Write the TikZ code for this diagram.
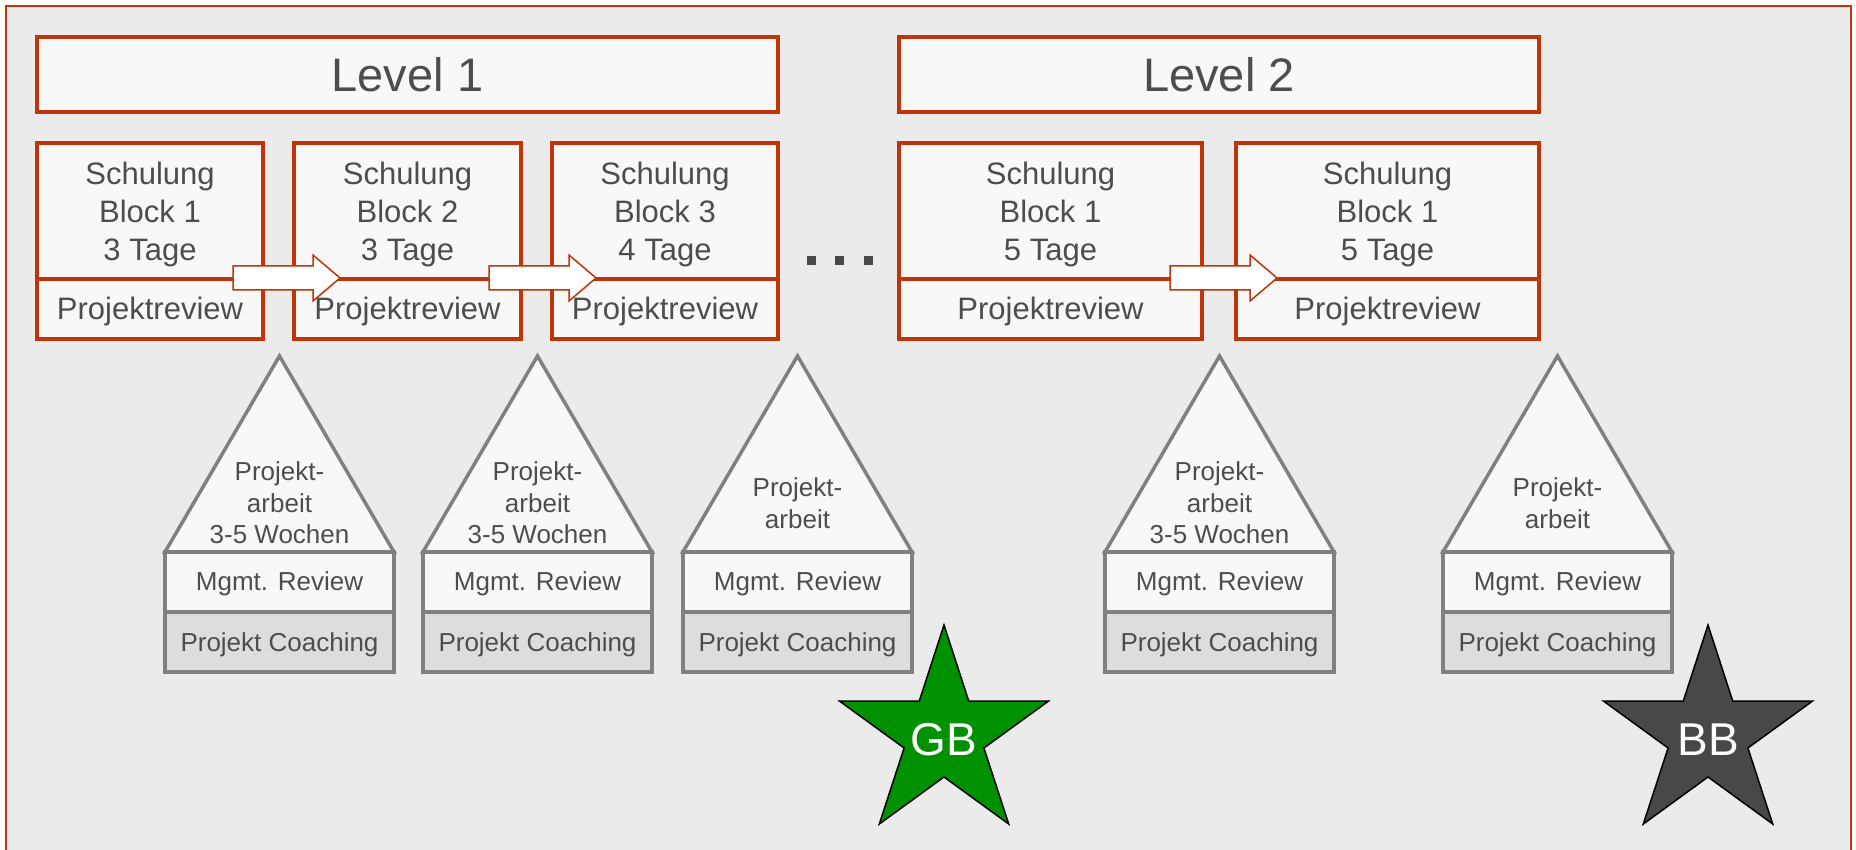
\documentclass[tikz,border=0pt]{standalone}
\usepackage{fontspec}
\setmainfont{Liberation Sans}
\definecolor{myred}{RGB}{192,52,10}
\definecolor{bggray}{RGB}{235,235,235}
\definecolor{boxfill}{RGB}{248,248,248}
\definecolor{txtgray}{RGB}{77,77,77}
\definecolor{trigray}{RGB}{128,128,128}
\definecolor{coachfill}{RGB}{221,221,221}
\definecolor{gbgreen}{RGB}{0,145,0}
\definecolor{bbgray}{RGB}{72,72,72}
\begin{document}
\begin{tikzpicture}[x=1pt,y=-1pt,
  redbox/.style={draw=myred, line width=4pt, fill=boxfill, rectangle, inner sep=0pt, outer sep=0pt},
  leveltxt/.style={text=txtgray, font=\fontsize{47}{56}\selectfont},
  blocktxt/.style={text=txtgray, font=\fontsize{31}{38}\selectfont, align=center, inner sep=0pt},
  revtxt/.style={text=txtgray, font=\fontsize{31}{38}\selectfont, inner sep=0pt},
  smalltxt/.style={text=txtgray, font=\fontsize{26}{31.5}\selectfont, inner sep=0pt},
  tri/.style={draw=trigray, line width=3.5pt, fill=boxfill},
  mgmtbox/.style={draw=trigray, line width=3.5pt, fill=boxfill, rectangle, inner sep=0pt, minimum width=229pt, minimum height=60pt},
  coachbox/.style={draw=trigray, line width=3.5pt, fill=coachfill, rectangle, inner sep=0pt, minimum width=229pt, minimum height=60pt},
  blockarrow/.style={draw=myred, line width=1.5pt, fill=white, line join=miter},
  dotsq/.style={fill=bbgray, rectangle, inner sep=0pt, minimum size=9pt},
  startxt/.style={text=white, font=\fontsize{46}{55}\selectfont, inner sep=0pt},
  starshape/.style={draw=black, line width=1.5pt, line join=miter}
]
% canvas
\fill[white] (0,0) rectangle (1856,850);
\useasboundingbox (0,0) rectangle (1856,850);
\draw[myred, line width=2pt, fill=bggray] (6,6) rectangle (1851,870);

% level headers
\node[redbox, leveltxt, minimum width=741pt, minimum height=75pt] (lv1) at (407.5,74.5) {Level 1};
\node[redbox, leveltxt, minimum width=640pt, minimum height=75pt] (lv2) at (1219,74.5) {Level 2};

% training blocks
\foreach \n/\xc/\w/\txt in {1/150/226/{Schulung\\Block 1\\3 Tage},
                           2/407.5/227/{Schulung\\Block 2\\3 Tage},
                           3/665/226/{Schulung\\Block 3\\4 Tage},
                           4/1050.5/303/{Schulung\\Block 1\\5 Tage},
                           5/1387.5/303/{Schulung\\Block 1\\5 Tage}}{
  \node[redbox, minimum width=\w pt, minimum height=136pt] (b\n) at (\xc,211) {};
  \node[blocktxt] (bt\n) at (\xc,214) {\txt};
  \node[redbox, minimum width=\w pt, minimum height=60pt] (r\n) at (\xc,309) {};
  \node[revtxt, anchor=base] (rt\n) at (\xc,320) {Projektreview};
}

% block arrows
\foreach \n/\xa in {1/233, 2/489, 3/1170}{
  \draw[blockarrow] (\xa,266) -- ++(80,0) -- ++(0,-11) -- ++(27,23) -- ++(-27,23) -- ++(0,-11) -- ++(-80,0) -- cycle;
}

% dots
\node[dotsq] (d1) at (811.5,260.5) {};
\node[dotsq] (d2) at (839.5,260.5) {};
\node[dotsq] (d3) at (868.5,260.5) {};

% project work triangles
\foreach \n/\xl/\txt in {1/165/{Projekt-\\arbeit\\3-5 Wochen},
                        2/423/{Projekt-\\arbeit\\3-5 Wochen},
                        3/683/{Projekt-\\arbeit},
                        4/1105/{Projekt-\\arbeit\\3-5 Wochen},
                        5/1443/{Projekt-\\arbeit}}{
  \pgfmathsetmacro\xc{\xl+114.5}
  \pgfmathsetmacro\xr{\xl+229}
  \draw[tri] (\xl,552) -- (\xc,356) -- (\xr,552) -- cycle;
  \node[smalltxt, align=center] (pt\n) at (\xc,503) {\txt};
  \node[mgmtbox] (m\n) at (\xc,582) {};
  \node[smalltxt, anchor=base] (mt\n) at (\xc,590) {Mgmt. Review};
  \node[coachbox] (c\n) at (\xc,642) {};
  \node[smalltxt, anchor=base] (ct\n) at (\xc,651.5) {Projekt Coaching};
}

% stars
\foreach \n/\cx/\col/\lbl in {gb/944/gbgreen/GB, bb/1708/bbgray/BB}{
  \begin{scope}[shift={(\cx,735)}]
    \draw[starshape, fill=\col] (0,-110) -- (24.7,-34) -- (104.6,-34) -- (39.9,13) -- (64.7,89)
      -- (0,42) -- (-64.7,89) -- (-39.9,13) -- (-104.6,-34) -- (-24.7,-34) -- cycle;
  \end{scope}
  \node[startxt] (\n) at (\cx,740) {\lbl};
}
\end{tikzpicture}
\end{document}
